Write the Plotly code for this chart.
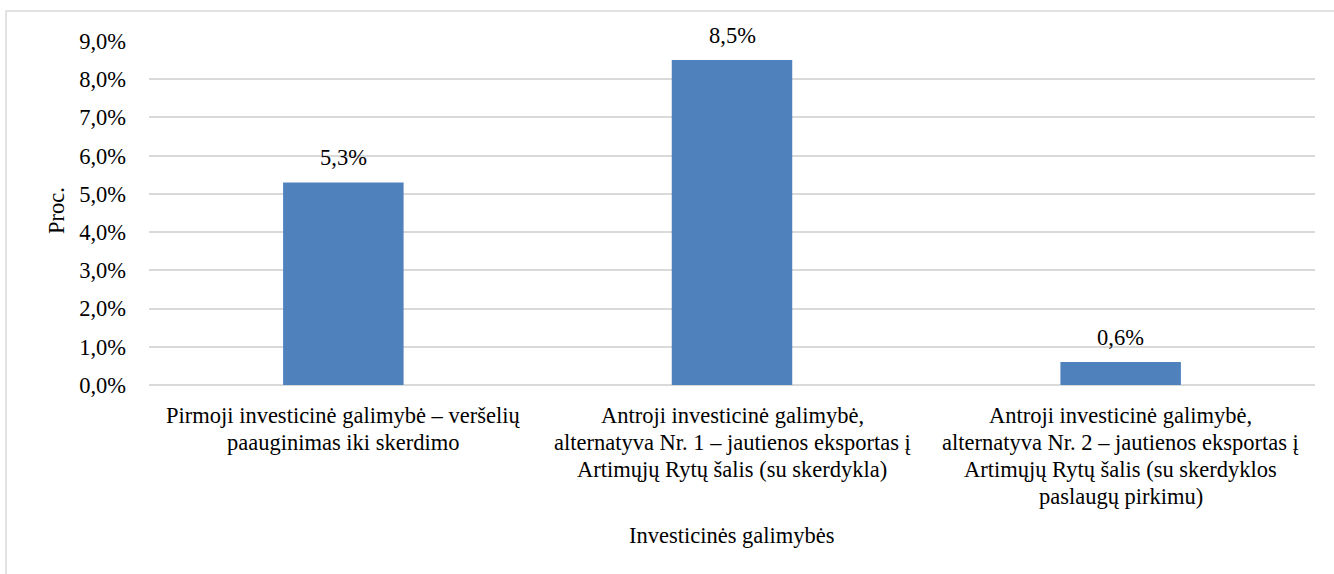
import plotly.graph_objects as go

# Investment options and their returns (percent)
categories = [
    "Pirmoji investicinė galimybė – veršelių<br>paauginimas iki skerdimo",
    "Antroji investicinė galimybė,<br>alternatyva Nr. 1 – jautienos eksportas į<br>Artimųjų Rytų šalis (su skerdykla)",
    "Antroji investicinė galimybė,<br>alternatyva Nr. 2 – jautienos eksportas į<br>Artimųjų Rytų šalis (su skerdyklos<br>paslaugų pirkimu)",
]
values = [5.3, 8.5, 0.6]
value_labels = ["5,3%", "8,5%", "0,6%"]
y_ticks = [0, 1, 2, 3, 4, 5, 6, 7, 8, 9]
y_tick_labels = ["0,0%", "1,0%", "2,0%", "3,0%", "4,0%", "5,0%", "6,0%", "7,0%", "8,0%", "9,0%"]
x_title = "Investicinės galimybės"
y_title = "Proc."

FONT = "Liberation Serif"
FS = 22.5
LINE_GAP = 27  # line spacing for the wrapped category labels

fig = go.Figure(
    go.Bar(
        x=categories,
        y=values,
        marker=dict(color="#4F81BD", line=dict(width=0)),
        width=0.31,
        hoverinfo="skip",
    )
)

txt = dict(family=FONT, size=FS, color="#000000")

# value labels above each bar
for cat, val, lab in zip(categories, values, value_labels):
    fig.add_annotation(
        x=cat, y=val, text=lab, showarrow=False,
        yanchor="middle", yshift=24.5, font=txt,
    )

# category labels, one annotation per line
for cat in categories:
    for i, line in enumerate(cat.split("<br>")):
        fig.add_annotation(
            x=cat, xref="x", y=0, yref="paper", text=line, showarrow=False,
            yanchor="middle", yshift=-(30 + LINE_GAP * i), font=txt,
        )

# axis titles
fig.add_annotation(
    x=0.5, xref="paper", y=0, yref="paper", text=x_title, showarrow=False,
    yanchor="middle", yshift=-150, font=txt,
)
fig.add_annotation(
    x=0, xref="paper", y=0.5, yref="paper", text=y_title, showarrow=False,
    textangle=-90, xanchor="center", yanchor="middle", xshift=-93, yshift=2,
    font=txt,
)

W, H = 1334, 574
ML, MR, MT, MB = 149, 19, 41, 189
pw, ph = W - ML - MR, H - MT - MB

# light outer frame of the chart area
fig.add_shape(
    type="rect", xref="paper", yref="paper",
    x0=(6 - ML) / pw, x1=(W + 10 - ML) / pw,
    y0=(H - MB - (H + 10)) / ph, y1=(H - MB - 11) / ph,
    line=dict(color="#D9D9D9", width=1.5), fillcolor="rgba(0,0,0,0)",
    layer="below",
)

fig.update_layout(
    width=W, height=H,
    margin=dict(l=ML, r=MR, t=MT, b=MB),
    paper_bgcolor="white", plot_bgcolor="white",
    font=txt,
    showlegend=False,
    xaxis=dict(
        showticklabels=False,
        showgrid=False, showline=False, ticks="",
        automargin=False,
    ),
    yaxis=dict(
        range=[0, 9],
        tickvals=y_ticks, ticktext=y_tick_labels,
        tickfont=txt,
        ticklabelstandoff=22,
        showgrid=True, gridcolor="#D9D9D9", gridwidth=1.5,
        zeroline=True, zerolinecolor="#D9D9D9", zerolinewidth=1.5,
        showline=False, ticks="", ticklen=0,
        automargin=False,
    ),
)

fig.write_html("out.html")
